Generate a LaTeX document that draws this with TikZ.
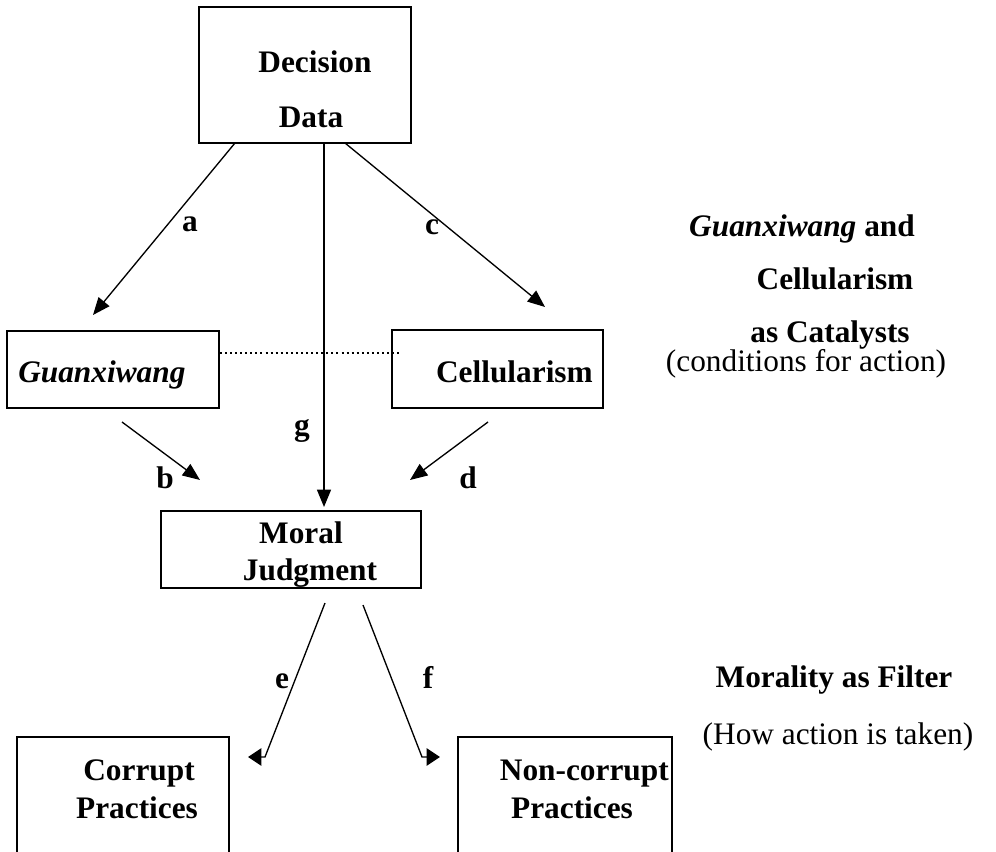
\documentclass[tikz,border=0pt]{standalone}
\usepackage{fontspec}
\setmainfont{Liberation Serif}
\usepackage{tikz}
\usetikzlibrary{arrows.meta, positioning, calc}
\definecolor{ink}{HTML}{000000}
\tikzset{
  box/.style      = {draw=ink, line width=1.4pt, rectangle, inner sep=0pt},
  word/.style     = {font=\fontsize{23.5}{28}\selectfont\bfseries, text=ink, anchor=base, inner sep=0pt},
  plain/.style    = {word, font=\fontsize{23.5}{28}\selectfont},
  flow/.style     = {-{Triangle[length=13pt, width=10.5pt]}, draw=ink, line width=1pt},
  flowside/.style = {-{Triangle[length=10pt, width=13pt]}, draw=ink, line width=1pt},
  link/.style     = {draw=ink, line width=1.1pt, dash pattern=on 1.5pt off 2.3pt},
}

\begin{document}
\begin{tikzpicture}[x=0.75pt, y=-0.75pt]
  \clip (0,0) rectangle (996,852);

  % boxes
  \node[box, minimum width=159pt, minimum height=102pt] (dd) at (305,75) {};
  \node[box, minimum width=159pt, minimum height=57.75pt] (gx) at (113,369.5) {};
  \node[box, minimum width=158.25pt, minimum height=58.5pt] (ce) at (497.5,369) {};
  \node[box, minimum width=195pt, minimum height=57.75pt] (mj) at (291,549.5) {};
  \node[box, minimum width=159pt, minimum height=122pt] (cp) at (123,818.5) {};
  \node[box, minimum width=160.5pt, minimum height=122pt] (nc) at (565,818.5) {};

  % box texts
  \node[word] (ddt1) at (315,73) {Decision};
  \node[word] (ddt2) at (311,128) {Data};
  \node[word, anchor=base west] (gxt) at (18,382) {\itshape Guanxiwang};
  \node[word, anchor=base east] (cet) at (593,382) {Cellularism};
  \node[word] (mjt1) at (301,543) {Moral};
  \node[word] (mjt2) at (310,580) {Judgment};
  \node[word] (cpt1) at (139,780) {Corrupt};
  \node[word] (cpt2) at (137,818) {Practices};
  \node[word, anchor=base east] (nct1) at (669,780) {Non-corrupt};
  \node[word] (nct2) at (572,818) {Practices};

  % connectors
  \coordinate (a1) at (235,143);  \coordinate (a2) at (93,315);
  \coordinate (c1) at (345,143);  \coordinate (c2) at (545,307);
  \coordinate (g1) at (324,143);  \coordinate (g2) at (324,507);
  \coordinate (b1) at (122,422);  \coordinate (b2) at (200,480);
  \coordinate (d1) at (488,422);  \coordinate (d2) at (410,480);
  \coordinate (e1) at (325,603);  \coordinate (e2) at (265,757);
  \coordinate (f1) at (363,605);  \coordinate (f2) at (422,757);
  \draw[flow] (a1) -- (a2);
  \draw[flow] (c1) -- (c2);
  \draw[flow] (g1) -- (g2);
  \draw[flow] (b1) -- (b2);
  \draw[flow] (d1) -- (d2);
  \draw[flowside] (e1) -- (e2) -- ++(-17,0);
  \draw[flowside] (f1) -- (f2) -- ++(18,0);
  \draw[link] (gx.east |- 0,353) -- (401,353);

  % letters
  \node[word] (la) at (190,232) {a};
  \node[word] (lc) at (432,235) {c};
  \node[word] (lg) at (302,435) {g};
  \node[word] (lb) at (165,488) {b};
  \node[word] (ld) at (468,488) {d};
  \node[word] (le) at (282,688) {e};
  \node[word] (lf) at (428,688) {f};

  % side notes
  \node[word] (s1) at (802,237) {\itshape Guanxiwang\upshape\ and};
  \node[word] (s2) at (835,290) {Cellularism};
  \node[word] (s3) at (830,342) {as Catalysts};
  \node[plain] (s4) at (806,371) {(conditions for action)};
  \node[word] (s5) at (834,687) {Morality as Filter};
  \node[plain] (s6) at (838,744) {(How action is taken)};
\end{tikzpicture}
\end{document}
